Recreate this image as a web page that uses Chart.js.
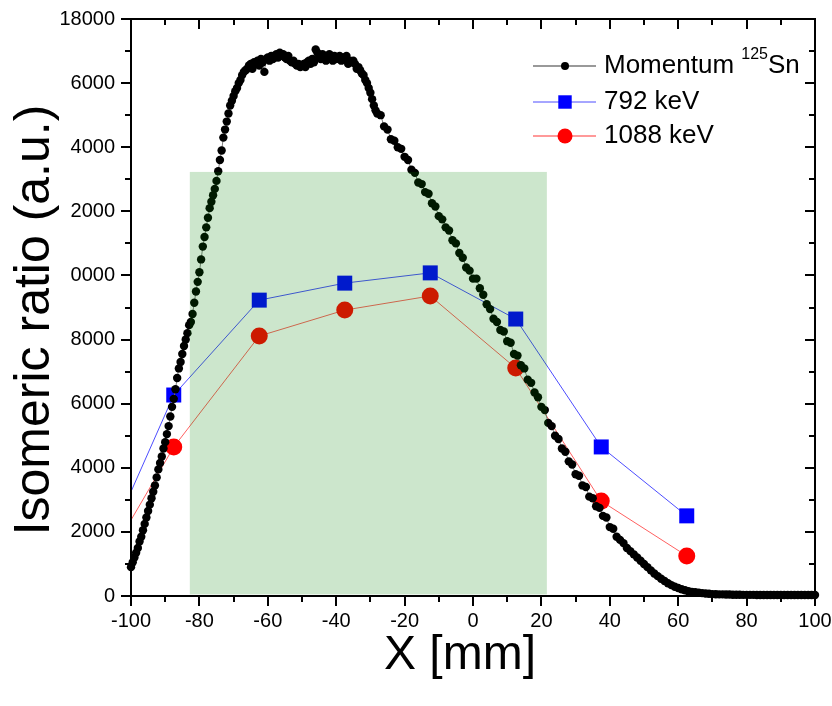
<!DOCTYPE html>
<html lang="en">
<head>
<meta charset="UTF-8">
<title>Isomeric ratio vs X</title>
<script src="https://cdn.jsdelivr.net/npm/chart.js"></script>
<style>
  html, body { margin: 0; padding: 0; background: #fff; }
  #grafico { display: block; }
</style>
</head>
<body>
<canvas id="grafico" width="832" height="706"></canvas>
<script>
// momentum scan of 125Sn (fine steps on the rising edge and the plateau)
const posMomentum = [
  -100,-99.5,-99,-98.5,-98,-97.5,-97,-96.5,-96,-95.5,
  -95,-94.5,-94,-93.5,-93,-92.5,-92,-91.5,-91,-90.5,
  -90,-89.5,-89,-88.5,-88,-87.5,-87,-86.5,-86,-85.5,
  -85,-84.5,-84,-83.5,-83,-82.5,-82,-81.5,-81,-80.5,
  -80,-79.5,-79,-78.5,-78,-77.5,-77,-76.5,-76,-75.5,
  -75,-74.5,-74,-73.5,-73,-72.5,-72,-71.5,-71,-70.5,
  -70,-69.5,-69,-68.5,-68,-67.5,-67,-66.5,-66,-65.5,
  -65,-64.5,-64,-63.5,-63,-62.5,-62,-61.5,-61,-60.5,
  -60,-59.5,-59,-58.5,-58,-57.5,-57,-56.5,-56,-55.5,
  -55,-54.5,-54,-53.5,-53,-52.5,-52,-51.5,-51,-50.5,
  -50,-49.5,-49,-48.5,-48,-47.5,-47,-46.5,-46,-45.5,
  -45,-44.5,-44,-43.5,-43,-42.5,-42,-41.5,-41,-40.5,
  -40,-39.5,-39,-38.5,-38,-37.5,-37,-36.5,-36,-35.5,
  -35,-34.5,-34,-33.5,-33,-32.5,-32,-31.5,-31,-30.5,
  -30,-29.5,-29,-28.5,-28,
  -27,-26,-25,-24,-23,-22,-21,-20,-19,-18,
  -17,-16,-15,-14,-13,-12,-11,-10,-9,-8,
  -7,-6,-5,-4,-3,-2,-1,0,1,2,
  3,4,5,6,7,8,9,10,11,12,
  13,14,15,16,17,18,19,20,21,22,
  23,24,25,26,27,28,29,30,31,32,
  33,34,35,36,37,38,39,40,41,42,
  43,44,45,46,47,48,49,50,51,52,
  53,54,55,56,57,58,59,60,61,62,
  63,64,65,66,67,68,69,70,71,72,
  73,74,75,76,77,78,79,80,81,82,
  83,84,85,86,87,88,89,90,91,92,
  93,94,95,96,97,98,99,100
];
const valMomentum = [
  900,1050,1200,1350,1500,1700,1850,2050,2250,2450,
  2650,2850,3050,3250,3450,3700,3950,4150,4350,4600,
  4800,5050,5300,5600,5900,6150,6450,6800,7100,7300,
  7550,7800,8000,8200,8450,8550,8800,9150,9500,9800,
  10100,10500,10900,11200,11500,11800,12100,12300,12500,12700,
  12950,13250,13600,13900,14300,14550,14800,15050,15300,15450,
  15600,15750,15850,16000,16100,16250,16350,16400,16450,16550,
  16600,16450,16650,16600,16700,16550,16750,16650,16350,16750,
  16800,16700,16850,16750,16800,16900,16800,16950,16850,16900,
  16800,16750,16850,16700,16650,16700,16600,16550,16600,16500,
  16550,16600,16500,16650,16700,16600,16750,16650,17050,16950,
  16800,16750,16900,16850,16700,16800,16900,16750,16700,16850,
  16750,16800,16850,16700,16800,16750,16850,16600,16700,16650,
  16700,16600,16450,16500,16400,16300,16250,16100,16000,15850,
  15700,15500,15300,15150,15050,
  15000,14650,14550,14250,14200,14000,13950,13700,13600,13300,
  13200,12900,12850,12600,12550,12250,12150,11850,11750,11500,
  11400,11100,11000,10700,10550,10250,10150,9900,9900,9600,
  9400,9100,8950,8650,8550,8300,8250,7950,7900,7550,
  7500,7200,7100,6750,6650,6350,6200,5900,5800,5400,
  5300,5000,4900,4600,4500,4200,4100,3800,3750,3450,
  3400,3100,3050,2800,2750,2500,2450,2150,2100,1850,
  1750,1650,1500,1400,1300,1200,1100,1000,900,800,
  700,620,540,470,400,340,290,250,210,180,
  150,130,115,100,90,80,70,60,55,50,
  50,45,45,40,40,40,35,35,35,35,
  30,30,30,30,30,30,30,30,30,30,
  30,30,30,30,30,30,30,30
];

// isomeric ratio in 25 mm bins (first bin lies left of the axis)
const posBins  = [-112.5, -87.5, -62.5, -37.5, -12.5, 12.5, 37.5, 62.5];
const ratio792  = [240, 6270, 9230, 9760, 10080, 8640, 4650, 2500];
const ratio1088 = [90, 4650, 8110, 8920, 9360, 7110, 2960, 1250];

const xTickLabels = ['-100','-80','-60','-40','-20','0','20','40','60','80','100'];
const yTickLabels = ['0','2000','4000','6000','8000','0000','2000','4000','6000','18000'];

// shaded window, in axis units
const janelaX = [-82.8, 21.6];
const janelaY = [50, 13230];

const FONTE = '"Liberation Sans", Arial, sans-serif';

function pontos(xs, ys) {
  return xs.map((x, i) => ({ x: x, y: ys[i] }));
}

// frame, inner/outer ticks, shaded window, titles and legend
const moldura = {
  id: 'moldura',
  afterDatasetsDraw(chart) {
    const ctx = chart.ctx;
    const sx = chart.scales.x, sy = chart.scales.y;
    const x0 = sx.getPixelForValue(janelaX[0]), x1 = sx.getPixelForValue(janelaX[1]);
    const y0 = sy.getPixelForValue(janelaY[1]), y1 = sy.getPixelForValue(janelaY[0]);
    ctx.save();
    ctx.fillStyle = 'rgba(0,130,0,0.2)';
    ctx.fillRect(x0, y0, x1 - x0, y1 - y0);
    ctx.restore();
  },
  afterDraw(chart) {
    const ctx = chart.ctx;
    const a = chart.chartArea;
    const sx = chart.scales.x, sy = chart.scales.y;
    ctx.save();
    ctx.strokeStyle = '#000';
    ctx.lineWidth = 2;
    ctx.strokeRect(a.left, a.top, a.right - a.left, a.bottom - a.top);

    ctx.beginPath();
    for (let v = -100; v <= 100; v += 10) {
      const px = Math.round(sx.getPixelForValue(v));
      const len = v % 20 === 0 ? 10 : 6;
      ctx.moveTo(px, a.bottom); ctx.lineTo(px, a.bottom + len);
      ctx.moveTo(px, a.top); ctx.lineTo(px, a.top + len);
    }
    for (let v = 0; v <= 18000; v += 1000) {
      const py = Math.round(sy.getPixelForValue(v));
      const len = v % 2000 === 0 ? 10 : 6;
      ctx.moveTo(a.left, py); ctx.lineTo(a.left - len, py);
      ctx.moveTo(a.right, py); ctx.lineTo(a.right - len, py);
    }
    ctx.stroke();

    // axis titles
    ctx.fillStyle = '#000';
    ctx.textAlign = 'center';
    ctx.textBaseline = 'middle';
    ctx.font = '48px ' + FONTE;
    ctx.fillText('X [mm]', 460, 656);
    ctx.translate(35, 320);
    ctx.rotate(-Math.PI / 2);
    ctx.font = '50px ' + FONTE;
    ctx.fillText('Isomeric ratio (a.u.)', 0, 0);
    ctx.restore();

    // legend
    const itens = [
      { y: 66, linha: '#999999', lw: 2, estilo: 'circle', raio: 4, cor: '#000000', texto: 'Momentum ', sup: '125', fim: 'Sn' },
      { y: 102, linha: '#4d4dff', lw: 1, estilo: 'rect', raio: 9.5, cor: '#0000ff', texto: '792 keV' },
      { y: 136, linha: '#ff9999', lw: 2, estilo: 'circle', raio: 7.5, cor: '#ff0000', texto: '1088 keV' }
    ];
    ctx.save();
    itens.forEach(it => {
      ctx.strokeStyle = it.linha;
      ctx.lineWidth = it.lw;
      ctx.beginPath();
      ctx.moveTo(533, it.y); ctx.lineTo(596, it.y);
      ctx.stroke();
      ctx.fillStyle = it.cor;
      Chart.helpers.drawPoint(ctx, { pointStyle: it.estilo, radius: it.raio, borderWidth: 0 }, 565, it.y);
      ctx.fillStyle = '#000';
      ctx.textAlign = 'left';
      ctx.textBaseline = 'middle';
      ctx.font = '26px ' + FONTE;
      ctx.fillText(it.texto, 604, it.y);
      if (it.sup) {
        let px = 604 + ctx.measureText(it.texto).width;
        ctx.font = '16px ' + FONTE;
        ctx.fillText(it.sup, px, it.y - 11);
        px += ctx.measureText(it.sup).width;
        ctx.font = '26px ' + FONTE;
        ctx.fillText(it.fim, px, it.y);
      }
    });
    ctx.restore();
  }
};

new Chart(document.getElementById('grafico'), {
  type: 'scatter',
  data: {
    datasets: [
      {
        label: 'Momentum 125Sn',
        data: pontos(posMomentum, valMomentum),
        showLine: true,
        borderColor: '#808080',
        borderWidth: 1,
        backgroundColor: '#000000',
        pointBackgroundColor: '#000000',
        pointBorderWidth: 0,
        pointRadius: 4.2,
        clip: false
      },
      {
        label: '792 keV',
        data: pontos(posBins, ratio792),
        showLine: true,
        borderColor: '#4d4dff',
        borderWidth: 1,
        pointStyle: 'rect',
        pointRadius: 10.6,
        pointBackgroundColor: '#0000ff',
        pointBorderWidth: 0,
        clip: { left: 0, right: false, top: false, bottom: false }
      },
      {
        label: '1088 keV',
        data: pontos(posBins, ratio1088),
        showLine: true,
        borderColor: '#ff6060',
        borderWidth: 1,
        pointStyle: 'circle',
        pointRadius: 8.5,
        pointBackgroundColor: '#ff0000',
        pointBorderWidth: 0,
        clip: { left: 0, right: false, top: false, bottom: false }
      }
    ]
  },
  options: {
    responsive: false,
    animation: false,
    devicePixelRatio: 1,
    layout: { padding: { top: 19, right: 17, left: 0, bottom: 0 } },
    plugins: { legend: { display: false }, tooltip: { enabled: false } },
    scales: {
      x: {
        type: 'linear',
        min: -100,
        max: 100,
        grid: { display: false, drawTicks: false },
        border: { display: false },
        ticks: {
          stepSize: 20,
          autoSkip: false,
          maxRotation: 0,
          padding: 13,
          color: '#000',
          font: { family: FONTE, size: 20 },
          callback: (v, i) => xTickLabels[i]
        },
        afterFit: s => {
          s.height = 110;
          s.paddingLeft = 0;
          s.paddingRight = 0;
        }
      },
      y: {
        min: 0,
        max: 18000,
        grid: { display: false, drawTicks: false },
        border: { display: false },
        ticks: {
          stepSize: 2000,
          autoSkip: false,
          padding: 16,
          color: '#000',
          font: { family: FONTE, size: 20 },
          callback: (v, i) => yTickLabels[i]
        },
        afterFit: s => {
          s.width = 131;
          s.paddingTop = 0;
          s.paddingBottom = 0;
        }
      }
    }
  },
  plugins: [moldura]
});
</script>
</body>
</html>
